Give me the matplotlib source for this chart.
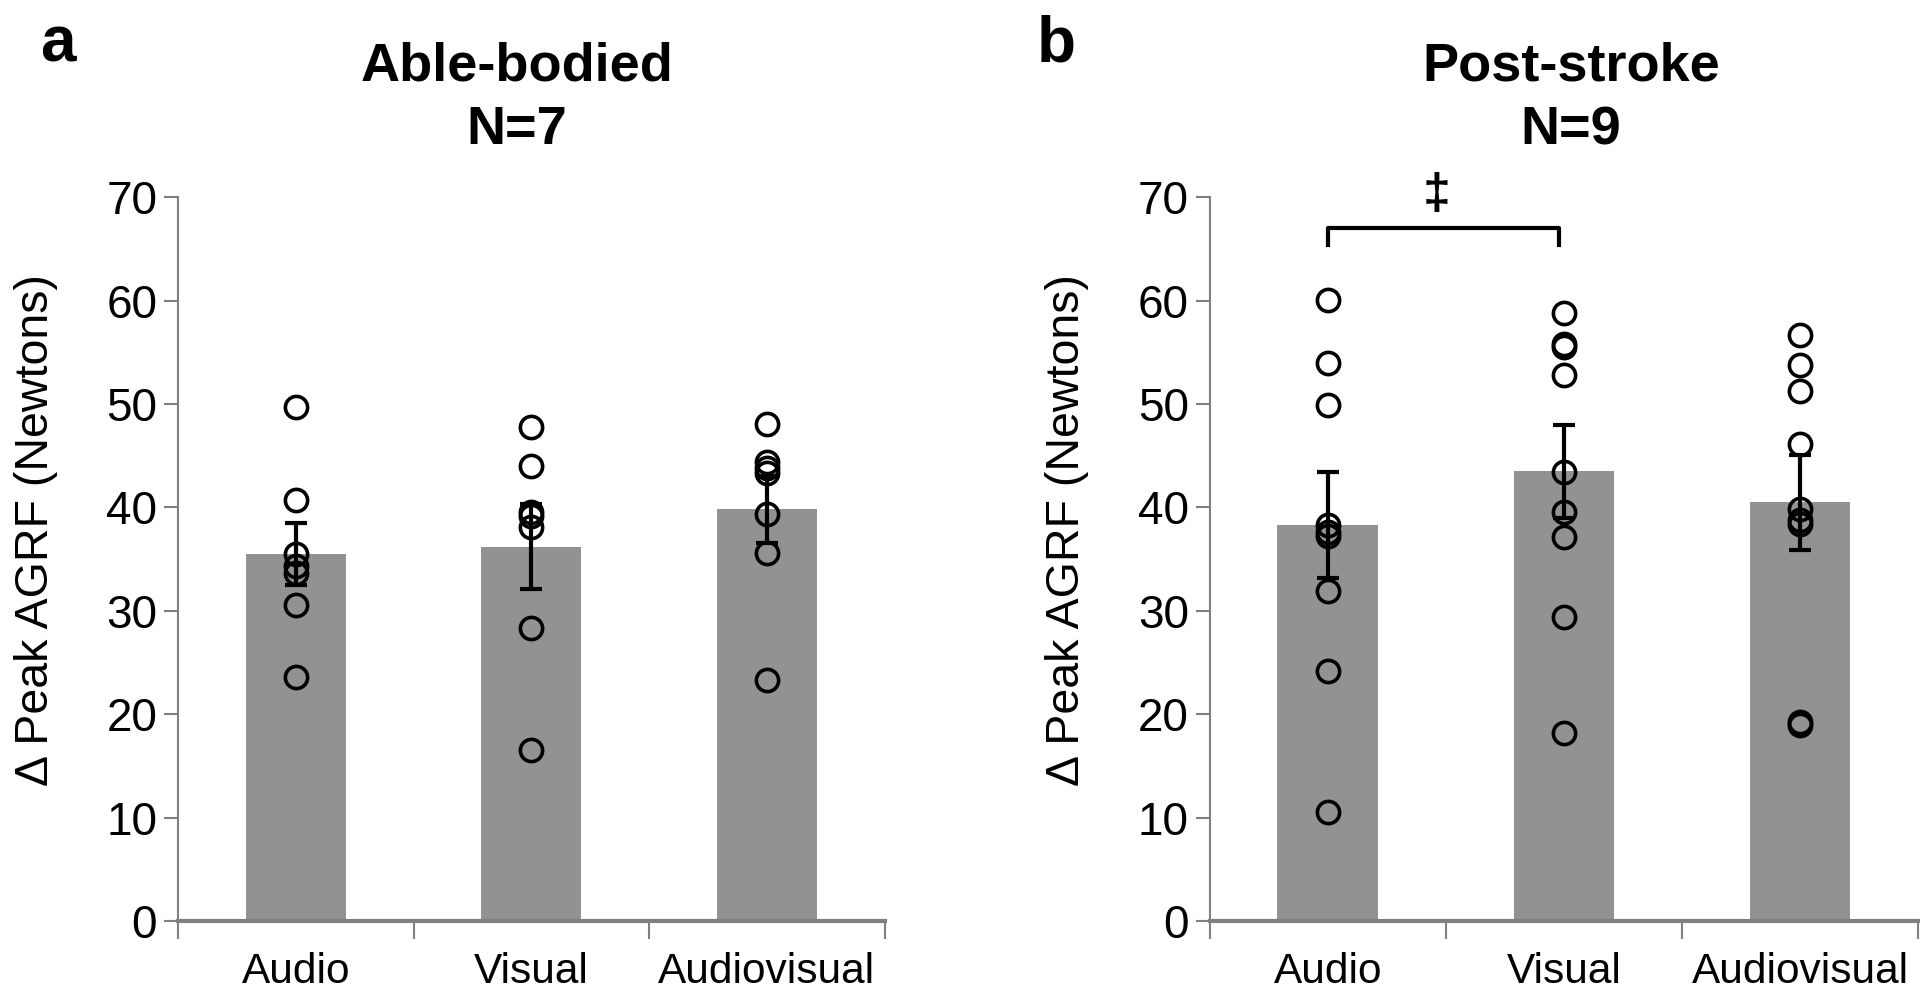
import numpy as np
import matplotlib
matplotlib.use("Agg")
import matplotlib.pyplot as plt

plt.rcParams['font.family'] = ['Liberation Sans', 'DejaVu Sans']

conditions = ["Audio", "Visual", "Audiovisual"]

# panel a: able-bodied, N=7
able_means = [35.5, 36.2, 39.8]
able_se = [3.0, 4.1, 3.2]
able_points = [
    [49.7, 40.7, 35.5, 34.3, 33.7, 30.6, 23.6],
    [47.8, 44.0, 39.6, 39.2, 38.1, 28.3, 16.5],
    [48.1, 44.4, 43.8, 43.3, 39.4, 35.6, 23.3],
]

# panel b: post-stroke, N=9
stroke_means = [38.3, 43.5, 40.5]
stroke_se = [5.1, 4.5, 4.6]
stroke_points = [
    [60.1, 54.0, 49.9, 38.3, 37.6, 37.2, 31.9, 24.2, 10.5],
    [58.8, 55.8, 55.5, 52.8, 43.4, 39.6, 37.1, 29.4, 18.2],
    [56.7, 53.8, 51.3, 46.1, 39.8, 38.8, 38.4, 19.2, 19.0],
]

yticks = [0, 10, 20, 30, 40, 50, 60, 70]

fig = plt.figure(figsize=(19.2, 9.97), dpi=100)
ax1 = fig.add_axes([0.0927, 0.0762, 0.368, 0.726])
ax2 = fig.add_axes([0.630, 0.0762, 0.369, 0.726])

bar_color = "#929292"
axis_color = "#808080"


def draw_panel(ax, means, se, points, title, title_x):
    x = np.arange(len(conditions))
    ax.bar(x, means, width=0.425, color=bar_color, zorder=2)
    ax.errorbar(x, means, yerr=se, fmt="none", ecolor="black", elinewidth=3,
                capsize=8, capthick=3, zorder=3)
    for i, vals in enumerate(points):
        ax.plot([x[i]] * len(vals), vals, "o", ms=16, mfc="none", mec="black",
                mew=2.6, zorder=4, clip_on=False)
    ax.set_xlim(-0.5, 2.5)
    ax.set_ylim(0, 70)
    ax.set_yticks(yticks)
    ax.set_yticklabels([str(t) for t in yticks], fontsize=33)
    ax.set_xticks(x)
    ax.set_xticklabels(conditions, fontsize=30.5)
    ax.set_xticks([-0.5, 0.5, 1.5, 2.5], minor=True)
    ax.tick_params(axis="x", which="major", length=0, pad=22)
    ax.tick_params(axis="x", which="minor", length=13, width=1.5, color=axis_color)
    ax.tick_params(axis="y", length=10, width=1.5, color=axis_color, pad=5)
    for s in ["top", "right"]:
        ax.spines[s].set_visible(False)
    ax.spines["left"].set_color(axis_color)
    ax.spines["left"].set_linewidth(1.5)
    ax.spines["bottom"].set_color(axis_color)
    ax.spines["bottom"].set_linewidth(3)
    ax.set_ylabel("Δ Peak AGRF (Newtons)", fontsize=33.5)
    ax.yaxis.set_label_coords(-0.17, 0.54)
    ax.set_title(title, fontsize=39, fontweight="bold", pad=38, linespacing=1.35,
                 x=title_x)


draw_panel(ax1, able_means, able_se, able_points, "Able-bodied\nN=7", 0.48)
draw_panel(ax2, stroke_means, stroke_se, stroke_points, "Post-stroke\nN=9", 0.51)

# significance bracket Audio vs Visual (post-stroke)
ax2.plot([0, 0, 0.98, 0.98], [65.4, 67.0, 67.0, 65.4], color="black", lw=3,
         clip_on=False, zorder=5)
ax2.text(0.46, 70.2, "‡", fontsize=36, fontweight="bold", ha="center",
         va="center", clip_on=False)

fig.text(0.021, 0.955, "a", fontsize=46, fontweight="bold", ha="left", va="center")
fig.text(0.540, 0.955, "b", fontsize=46, fontweight="bold", ha="left", va="center")

fig.savefig("out.png", dpi=100)
